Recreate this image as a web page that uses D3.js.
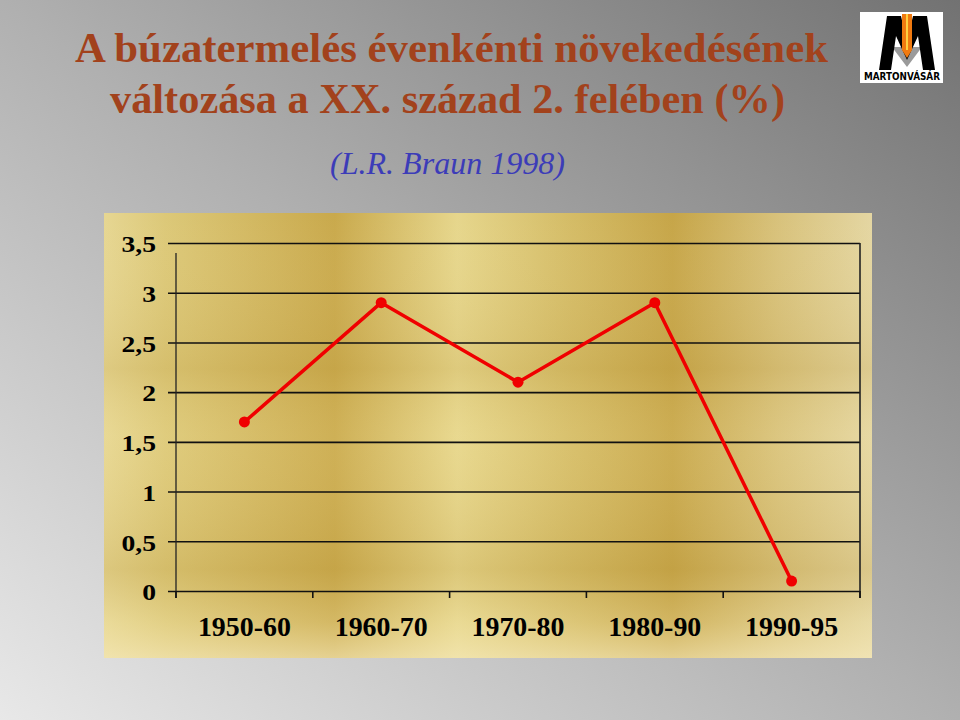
<!DOCTYPE html>
<html>
<head>
<meta charset="utf-8">
<script src="https://cdn.jsdelivr.net/npm/d3@7"></script>
<style>
  html, body { margin: 0; padding: 0; background: #fff; }
  svg { display: block; }
</style>
</head>
<body>
<svg id="chart" width="960" height="720"></svg>
<script>
// ---- data ----
const categories = ["1950-60", "1960-70", "1970-80", "1980-90", "1990-95"];
const values = [1.7, 2.9, 2.1, 2.9, 0.1];
const yTicks = [0, 0.5, 1, 1.5, 2, 2.5, 3, 3.5];
const titleLines = ["A búzatermelés évenkénti növekedésének", "változása a XX. század 2. felében (%)"];
const subtitle = "(L.R. Braun 1998)";
const logoText = "MARTONVÁSÁR";

const W = 960, H = 720;
const svg = d3.select("#chart");
const defs = svg.append("defs");

// background gradient (dark top-right -> light bottom-left)
const bg = defs.append("linearGradient").attr("id", "bg")
  .attr("x1", "100%").attr("y1", "0%").attr("x2", "0%").attr("y2", "100%");
bg.append("stop").attr("offset", "0%").attr("stop-color", "#727272");
bg.append("stop").attr("offset", "50%").attr("stop-color", "#b0b0b0");
bg.append("stop").attr("offset", "100%").attr("stop-color", "#e8e8e8");
svg.append("rect").attr("width", W).attr("height", H).attr("fill", "url(#bg)");

// gold panel gradients
const gh = defs.append("linearGradient").attr("id", "goldH")
  .attr("x1", "0%").attr("y1", "0%").attr("x2", "100%").attr("y2", "0%");
[[0, "#e6d692"], [0.08, "#dcc878"], [0.30, "#c9a94c"], [0.46, "#e6d68c"],
 [0.60, "#d5bd68"], [0.74, "#c6a548"], [0.88, "#d8c27c"], [1, "#e4d6a2"]]
  .forEach(([o, c]) => gh.append("stop").attr("offset", o).attr("stop-color", c));
const gv = defs.append("linearGradient").attr("id", "goldV")
  .attr("x1", "0%").attr("y1", "0%").attr("x2", "0%").attr("y2", "100%");
[[0, "#fff4c0", 0.0], [0.35, "#b89438", 0.18], [0.5, "#fff0b0", 0.10],
 [0.8, "#b89438", 0.22], [0.92, "#f6e8b0", 0.25], [1, "#f8ecc0", 0.6]]
  .forEach(([o, c, a]) => gv.append("stop").attr("offset", o).attr("stop-color", c).attr("stop-opacity", a));

const panel = { x: 104, y: 213, w: 768, h: 445 };
svg.append("rect").attr("x", panel.x).attr("y", panel.y).attr("width", panel.w).attr("height", panel.h)
  .attr("fill", "url(#goldH)");
svg.append("rect").attr("x", panel.x).attr("y", panel.y).attr("width", panel.w).attr("height", panel.h)
  .attr("fill", "url(#goldV)");

// helpers to stretch text horizontally
function stretchTo(sel, width) {
  sel.attr("textLength", width).attr("lengthAdjust", "spacingAndGlyphs");
}
function stretchBy(sel, factor) {
  sel.each(function () {
    const l = this.getComputedTextLength();
    d3.select(this).attr("textLength", l * factor).attr("lengthAdjust", "spacingAndGlyphs");
  });
}

// titles
const serif = "Liberation Serif";
const tl = [{ x: 75, y: 62, w: 753 }, { x: 110, y: 113, w: 675 }];
titleLines.forEach((t, i) => {
  const el = svg.append("text").attr("x", tl[i].x).attr("y", tl[i].y)
    .attr("font-family", serif).attr("font-weight", "bold").attr("font-size", 42)
    .attr("fill", "#a2421c").text(t);
  stretchTo(el, tl[i].w);
});
const sub = svg.append("text").attr("x", 330).attr("y", 174)
  .attr("font-family", serif).attr("font-style", "italic").attr("font-size", 31)
  .attr("fill", "#3c3cb8").text(subtitle);
stretchTo(sub, 235);

// plot scales
const plot = { left: 176, right: 860, top: 243, bottom: 591 };
const x = d3.scaleBand().domain(categories).range([plot.left, plot.right]).padding(0);
const y = d3.scaleLinear().domain([0, 3.5]).range([plot.bottom, plot.top]);

// gridlines with left tick extension
const yAxis = d3.axisLeft(y).tickValues(yTicks)
  .tickSize(-(plot.right - plot.left))
  .tickFormat(d => String(d).replace(".", ","));
const ya = svg.append("g").attr("transform", `translate(${plot.left},0)`).call(yAxis);
ya.select(".domain").remove();
ya.selectAll(".tick line").attr("stroke", "#111").attr("stroke-width", 1.6).attr("x1", -8);
ya.selectAll(".tick text").attr("x", -20).attr("dy", "0.38em")
  .attr("font-family", serif).attr("font-weight", "bold").attr("font-size", 23).attr("fill", "#000");
stretchBy(ya.selectAll(".tick text"), 1.2);

// left axis line and right border
svg.append("line").attr("x1", plot.left).attr("x2", plot.left).attr("y1", plot.top + 10).attr("y2", plot.bottom + 7)
  .attr("stroke", "#222").attr("stroke-width", 1.3);
svg.append("line").attr("x1", plot.right).attr("x2", plot.right).attr("y1", plot.top).attr("y2", plot.bottom + 7)
  .attr("stroke", "#222").attr("stroke-width", 1.6);

// x axis: boundary ticks
const boundaries = categories.map(c => x(c)).concat([x(categories[categories.length - 1]) + x.bandwidth()]);
svg.append("g").selectAll("line").data(boundaries).join("line")
  .attr("x1", d => d).attr("x2", d => d).attr("y1", plot.bottom).attr("y2", plot.bottom + 7)
  .attr("stroke", "#111").attr("stroke-width", 1.6);
const xl = svg.append("g").selectAll("text").data(categories).join("text")
  .attr("x", d => x(d) + x.bandwidth() / 2).attr("y", 636)
  .attr("text-anchor", "middle")
  .attr("font-family", serif).attr("font-weight", "bold").attr("font-size", 27).attr("fill", "#000")
  .text(d => d);
stretchTo(xl, 93);

// line + markers
const line = d3.line().x((d, i) => x(categories[i]) + x.bandwidth() / 2).y(d => y(d));
svg.append("path").datum(values).attr("d", line)
  .attr("fill", "none").attr("stroke", "#f00000").attr("stroke-width", 3.5).attr("stroke-linejoin", "round");
svg.append("g").selectAll("circle").data(values).join("circle")
  .attr("cx", (d, i) => x(categories[i]) + x.bandwidth() / 2).attr("cy", d => y(d)).attr("r", 5.5)
  .attr("fill", "#f00000");

// logo
const logo = svg.append("g");
logo.append("rect").attr("x", 860).attr("y", 12).attr("width", 83).attr("height", 71).attr("fill", "#fff");
logo.append("polygon").attr("points", "892,47 922,47 907,67").attr("fill", "#9a9a9a");
logo.append("polygon")
  .attr("points", "879,70 887,16 901,16 907,42 913,16 927,16 935,70 923,70 918,36 907,60 896,36 891,70")
  .attr("fill", "#000");
logo.append("polygon").attr("points", "902,14 912,14 912,50 907,58 902,50").attr("fill", "#f07a10");
logo.append("line").attr("x1", 907).attr("x2", 907).attr("y1", 14).attr("y2", 50).attr("stroke", "#ffd040").attr("stroke-width", 2);
const lt = logo.append("text").attr("x", 864).attr("y", 80)
  .attr("font-family", "DejaVu Sans").attr("font-weight", "bold").attr("font-size", 10)
  .attr("fill", "#000").text(logoText);
stretchTo(lt, 76);
</script>
</body>
</html>
